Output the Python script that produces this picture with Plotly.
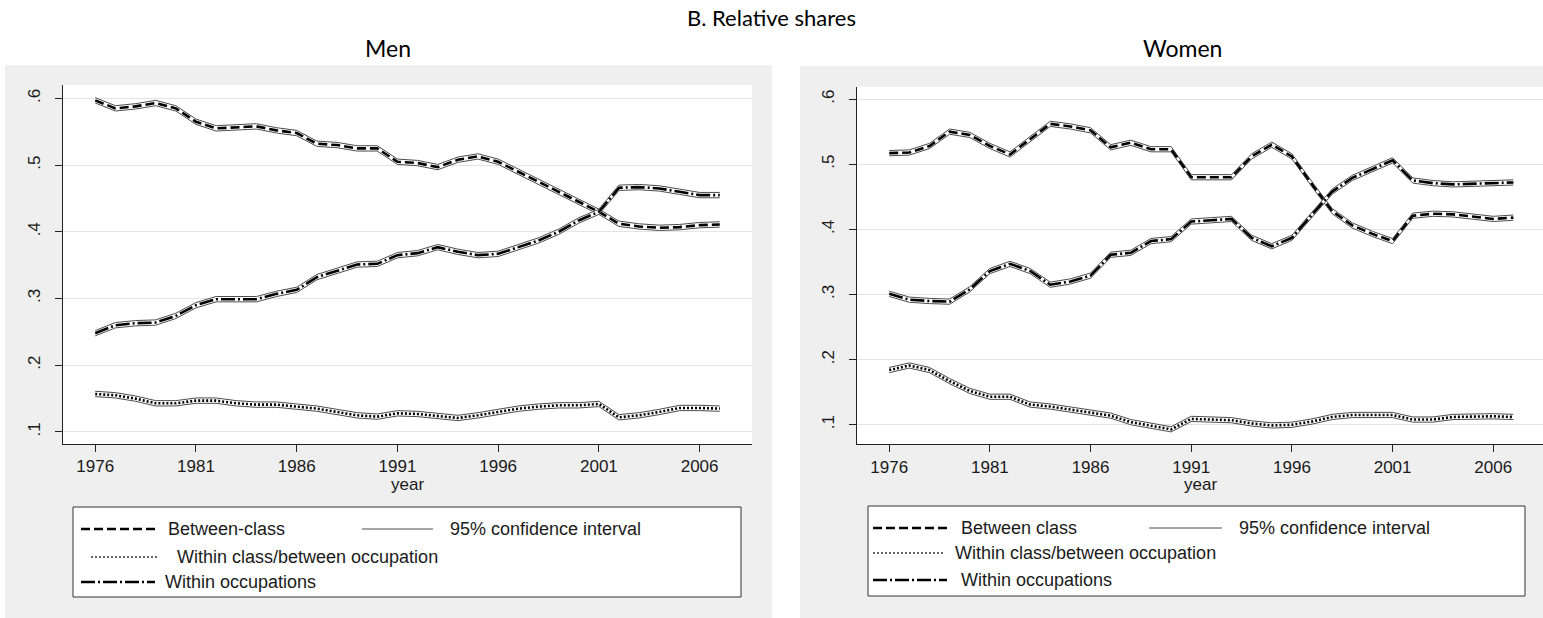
import plotly.graph_objects as go

# Survey years
years = list(range(1976, 2008))

# Relative shares of wage variance, men
men_between_class = [0.597, 0.585, 0.588, 0.593, 0.585, 0.565, 0.555, 0.557, 0.558, 0.552,
                     0.548, 0.532, 0.530, 0.525, 0.525, 0.505, 0.503, 0.497, 0.508, 0.513,
                     0.505, 0.490, 0.475, 0.460, 0.445, 0.430, 0.412, 0.408, 0.406, 0.407,
                     0.410, 0.411]
men_within_occ = [0.248, 0.260, 0.263, 0.264, 0.274, 0.290, 0.299, 0.299, 0.299, 0.307,
                  0.313, 0.332, 0.342, 0.351, 0.352, 0.365, 0.368, 0.377, 0.370, 0.365,
                  0.367, 0.377, 0.387, 0.400, 0.417, 0.430, 0.466, 0.467, 0.465, 0.460,
                  0.455, 0.455]
men_between_occ = [0.157, 0.155, 0.150, 0.143, 0.143, 0.147, 0.147, 0.143, 0.141, 0.141,
                   0.138, 0.135, 0.130, 0.125, 0.123, 0.128, 0.127, 0.124, 0.121, 0.125,
                   0.130, 0.135, 0.138, 0.140, 0.140, 0.142, 0.122, 0.125, 0.130, 0.136,
                   0.136, 0.135]

# Relative shares of wage variance, women
women_between_class = [0.517, 0.518, 0.528, 0.550, 0.545, 0.528, 0.515, 0.538, 0.562, 0.558,
                       0.552, 0.526, 0.533, 0.523, 0.523, 0.480, 0.480, 0.480, 0.512, 0.530,
                       0.512, 0.469, 0.428, 0.406, 0.393, 0.382, 0.421, 0.424, 0.423, 0.419,
                       0.416, 0.418]
women_within_occ = [0.301, 0.292, 0.290, 0.289, 0.308, 0.336, 0.347, 0.336, 0.315, 0.320,
                    0.329, 0.361, 0.364, 0.382, 0.385, 0.412, 0.414, 0.416, 0.387, 0.374,
                    0.387, 0.423, 0.458, 0.479, 0.493, 0.506, 0.475, 0.471, 0.469, 0.470,
                    0.472, 0.472]
women_between_occ = [0.184, 0.191, 0.184, 0.167, 0.152, 0.143, 0.143, 0.131, 0.128, 0.123,
                     0.119, 0.114, 0.104, 0.098, 0.093, 0.109, 0.108, 0.107, 0.102, 0.099,
                     0.100, 0.105, 0.112, 0.115, 0.115, 0.115, 0.108, 0.108, 0.112, 0.113,
                     0.113, 0.112]

# Half-width of the 95% confidence band around each estimate
ci_half_width = 0.004

x_ticks = [1976, 1981, 1986, 1991, 1996, 2001, 2006]
y_ticks = [0.1, 0.2, 0.3, 0.4, 0.5, 0.6]
y_tick_text = [".1", ".2", ".3", ".4", ".5", ".6"]

W, H = 1543, 618
TXT = "#1a1a1a"
SANS = "Liberation Sans, Arial, sans-serif"
TITLE_FONT = "Lato, Open Sans, sans-serif"

DASH_BETWEEN_CLASS = "9px,4px"
DASH_BETWEEN_OCC = "2px,2px"
DASH_WITHIN_OCC = "14px,3px,2px,3px"

# Plot-area pixel boxes (left, right, top, bottom)
MEN_BOX = (63, 752, 85, 444)
WOMEN_BOX = (857, 1543, 86.7, 444.3)


def px(x):
    return x / W


def py(y):
    return 1 - y / H


fig = go.Figure()


def add_series(values, dash, xa, ya):
    lower = [v - ci_half_width for v in values]
    upper = [v + ci_half_width for v in values]
    fig.add_trace(go.Scatter(x=years, y=lower, mode="lines", xaxis=xa, yaxis=ya,
                             line=dict(color="#4d4d4d", width=1), showlegend=False,
                             hoverinfo="skip"))
    fig.add_trace(go.Scatter(x=years, y=upper, mode="lines", xaxis=xa, yaxis=ya,
                             fill="tonexty", fillcolor="white",
                             line=dict(color="#4d4d4d", width=1), showlegend=False,
                             hoverinfo="skip"))
    fig.add_trace(go.Scatter(x=years, y=values, mode="lines", xaxis=xa, yaxis=ya,
                             line=dict(color="black", width=2.6, dash=dash),
                             showlegend=False))


for xa, ya, series in [
    ("x", "y", [(men_between_class, DASH_BETWEEN_CLASS),
                (men_within_occ, DASH_WITHIN_OCC),
                (men_between_occ, DASH_BETWEEN_OCC)]),
    ("x2", "y2", [(women_between_class, DASH_BETWEEN_CLASS),
                  (women_within_occ, DASH_WITHIN_OCC),
                  (women_between_occ, DASH_BETWEEN_OCC)]),
]:
    for vals, dash in series:
        add_series(vals, dash, xa, ya)

xaxis_common = dict(
    tickmode="array", tickvals=x_ticks, ticks="outside", ticklen=7, tickwidth=1,
    tickcolor="#222", showline=True, linecolor="#222", linewidth=1,
    showgrid=False, zeroline=False,
    tickfont=dict(family=SANS, size=17, color=TXT),
)
yaxis_common = dict(
    tickmode="array", tickvals=y_ticks, ticktext=y_tick_text, ticks="outside",
    ticklen=7, tickwidth=1, tickcolor="#222", showline=True, linecolor="#222",
    linewidth=1, showgrid=True, gridcolor="#e4e4e4", gridwidth=1, zeroline=False,
    tickangle=-90, ticklabelstandoff=8,
    tickfont=dict(family=SANS, size=17, color=TXT),
)

fig.update_layout(
    width=W, height=H,
    margin=dict(l=0, r=0, t=0, b=0),
    paper_bgcolor="white", plot_bgcolor="rgba(0,0,0,0)",
    showlegend=False,
    xaxis=dict(domain=[px(MEN_BOX[0]), px(MEN_BOX[1])], range=[1974.4, 2008.6],
               anchor="y", **xaxis_common),
    yaxis=dict(domain=[py(MEN_BOX[3]), py(MEN_BOX[2])], range=[0.082, 0.62],
               anchor="x", **yaxis_common),
    xaxis2=dict(domain=[px(WOMEN_BOX[0]), 1.0], range=[1974.4, 2008.47],
                anchor="y2", **xaxis_common),
    yaxis2=dict(domain=[py(WOMEN_BOX[3]), py(WOMEN_BOX[2])], range=[0.070, 0.619],
                anchor="x2", **yaxis_common),
)

shapes = []
annotations = []

# Grey panel backgrounds, then white plotting regions on top of them
for x0, x1, y1 in [(5, 772, 65), (800, 1543, 66)]:
    shapes.append(dict(type="rect", xref="paper", yref="paper", layer="below",
                       x0=px(x0), x1=px(x1), y0=0, y1=py(y1),
                       fillcolor="#efefef", line=dict(width=0)))
for l, r, t, b in [MEN_BOX, WOMEN_BOX]:
    shapes.append(dict(type="rect", xref="paper", yref="paper", layer="below",
                       x0=px(l), x1=px(r), y0=py(b), y1=py(t),
                       fillcolor="white", line=dict(width=0)))

# Titles
annotations.append(dict(text="B. Relative shares", x=px(771), y=py(18), xref="paper",
                        yref="paper", showarrow=False, xanchor="center", yanchor="middle",
                        font=dict(family=TITLE_FONT, size=22, color="black")))
for label, cx in [("Men", 388), ("Women", 1182)]:
    annotations.append(dict(text=label, x=px(cx), y=py(48), xref="paper", yref="paper",
                            showarrow=False, xanchor="center", yanchor="middle",
                            font=dict(family=TITLE_FONT, size=23, color="black")))

# Axis titles
for cx in [407.5, 1200]:
    annotations.append(dict(text="year", x=px(cx), y=py(485), xref="paper", yref="paper",
                            showarrow=False, xanchor="center", yanchor="middle",
                            font=dict(family=SANS, size=17, color=TXT)))

# Legend boxes
legend_specs = [
    dict(box=(73, 741, 507, 597), rows=(529, 557, 582),
         between_label="Between-class",
         sample_bc=(81, 155, 166), sample_ci=(362, 433, 448),
         sample_bo=(91, 159, 175), sample_wo=(81, 155, 163)),
    dict(box=(868, 1525, 506, 596), rows=(528, 553, 580),
         between_label="Between class",
         sample_bc=(873, 947, 959), sample_ci=(1149, 1222, 1237),
         sample_bo=(873, 945, 953), sample_wo=(873, 947, 959)),
]

for spec in legend_specs:
    bx0, bx1, by0, by1 = spec["box"]
    shapes.append(dict(type="rect", xref="paper", yref="paper",
                       x0=px(bx0), x1=px(bx1), y0=py(by1), y1=py(by0),
                       fillcolor="white", line=dict(color="#333", width=1)))
    r1, r2, r3 = spec["rows"]
    entries = [
        (spec["sample_bc"], r1, dict(color="black", width=2.6, dash=DASH_BETWEEN_CLASS),
         spec["between_label"]),
        (spec["sample_ci"], r1, dict(color="#4d4d4d", width=1), "95% confidence interval"),
        (spec["sample_bo"], r2, dict(color="#333", width=1.4, dash=DASH_BETWEEN_OCC),
         "Within class/between occupation"),
        (spec["sample_wo"], r3, dict(color="black", width=2.6, dash=DASH_WITHIN_OCC),
         "Within occupations"),
    ]
    for (sx0, sx1, tx), ry, line, text in entries:
        shapes.append(dict(type="line", xref="paper", yref="paper",
                           x0=px(sx0), x1=px(sx1), y0=py(ry), y1=py(ry), line=line))
        annotations.append(dict(text=text, x=px(tx), y=py(ry), xref="paper", yref="paper",
                                showarrow=False, xanchor="left", yanchor="middle",
                                font=dict(family=SANS, size=18, color=TXT)))

fig.update_layout(shapes=shapes, annotations=annotations)

fig.write_html("out.html")
